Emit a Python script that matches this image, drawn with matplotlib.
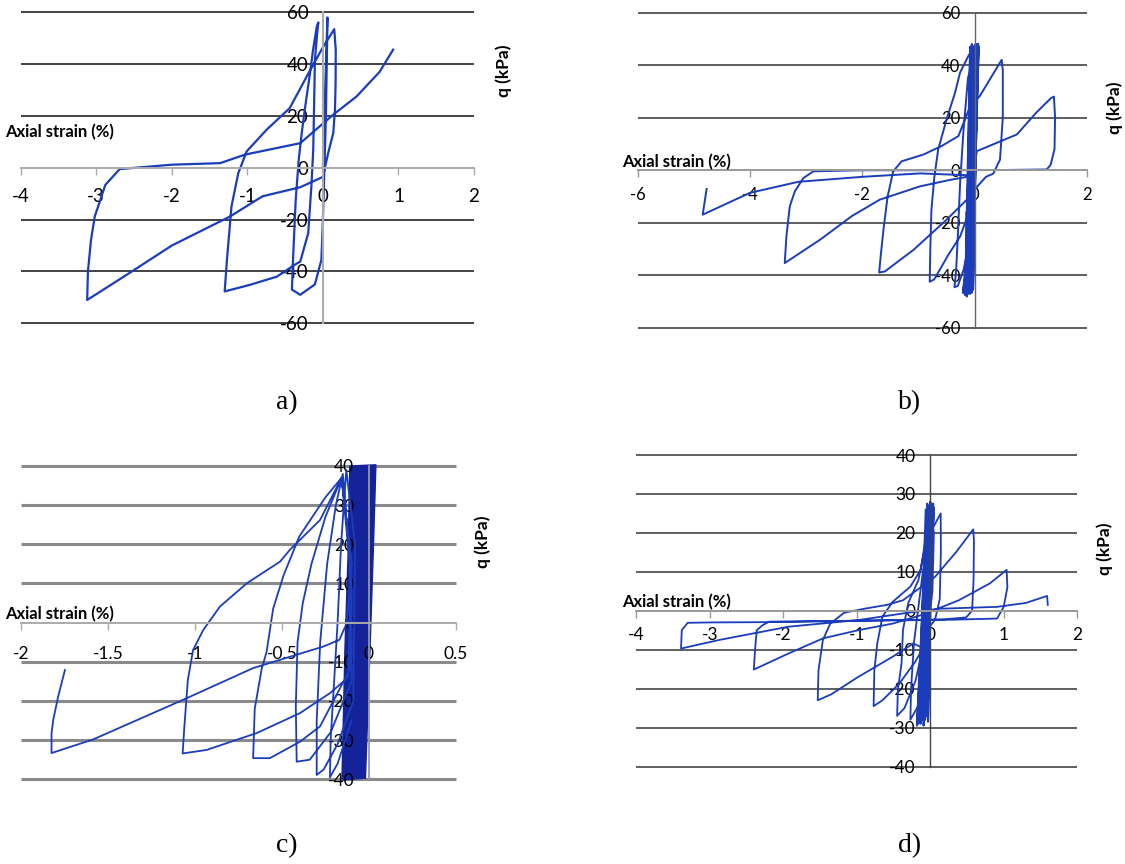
import matplotlib
matplotlib.use('Agg')
import matplotlib.pyplot as plt

plt.rcParams['font.family'] = ['Lato', 'DejaVu Sans']
plt.rcParams['axes.unicode_minus'] = False

BLUE = '#1b3dbb'
W, H = 1125, 864

# ---------------- panel a ----------------
a_strain = [0.0, 0.03, 0.06, 0.04, 0.02, 0.0, -0.02, -0.106, -0.3, -0.41,
            -0.39, -0.36, -0.32, -0.28, -0.24, -0.17, -0.13, -0.08, -0.06,
            -0.075, -0.106, -0.115, -0.128, -0.15, -0.194, -0.3, -0.35,
            -0.61, -0.97, -1.3,
            -1.27, -1.21, -1.12, -1.01,
            -0.745, -0.44, -0.2, 0.0, 0.15,
            0.17, 0.168, 0.16, 0.137, 0.07, 0.026, 0.0,
            -0.3, -0.8, -1.23, -2.0, -2.55, -3.12,
            -3.11, -3.07, -3.02, -2.88, -2.69,
            -2.0, -1.36, -1.03, -0.3, 0.137, 0.445, 0.75, 0.93]
a_q = [0, 30, 58, 20, 0, -20, -35.5, -45, -49, -47,
       -31.7, -12.4, 3.1, 13.4, 22.4, 36.6, 45.6, 54.6, 56.1,
       52, 41.7, 26.3, 6.9, -5.9, -25.2, -36.2, -37,
       -42, -45.2, -47.7,
       -35.5, -14.9, -2.1, 6.3,
       14.7, 23, 36, 46.5, 53.5,
       45.6, 32.7, 22.4, 13.4, 5.7, 0, -3.5,
       -7.5, -11, -18.8, -30, -40.4, -51,
       -40, -28, -18.8, -6.6, -0.5,
       1.2, 1.8, 5.1, 9.5, 20.5, 27.5, 37, 45.6]

# ---------------- panel b ----------------
b_band_strain = [-0.15, -0.08, -0.17, -0.05, -0.16, -0.03, -0.14, 0.0, -0.13, 0.02, -0.11,
                 0.04, -0.1, 0.05, -0.08, 0.06, -0.06, 0.07, -0.05, 0.06, -0.03, 0.05]
b_band_q = [-46, 47, -47.5, 48, -46.5, 47, -48, 47.5, -46, 48, -47,
            47, -46.5, 48, -47, 47.5, -46, 47, -46.5, 48, -45.5, 47]
b_strain = [-0.15, -0.15, -0.18, -0.05, 0.02,
            -0.12, -0.2, -0.26, -0.3, -0.33, -0.36, -0.3, -0.2, -0.1, -0.02, 0.03, 0.04,
            0.0, -0.1, -0.21, -0.18, -0.1, 0.0, 0.03,
            -0.1, -0.26, -0.35, -0.5, -0.65, -0.72, -0.77, -0.79, -0.8,
            -0.72, -0.47, -0.26, -0.13, -0.03,
            0.2, 0.33, 0.45, 0.5, 0.5, 0.48,
            0.09, -0.08, -0.29, -0.59, -0.91, -1.3, -1.45, -1.55, -1.62, -1.67, -1.70,
            -1.6, -1.09, -0.5, -0.14, -0.02, 0.04,
            0.39, 0.75, 1.1, 1.36, 1.41, 1.43, 1.42, 1.35, 1.28,
            0.5, -1.0, -2.0, -2.87, -3.05, -3.2, -3.29, -3.35, -3.38,
            -2.75, -2.19, -1.69, -0.97, -0.4, 0.0,
            -0.97, -2.0, -3.14, -4.0, -4.84, -4.77]
b_q = [-16, -40, -47, 0, 47,
       35, 15, -5, -25, -38, -44.5, -44, -38, -28, -10, 20, 47,
       0, -30, -46.6, -40, -20, 10, 47,
       44, 37.2, 29.5, 19.4, 7.9, -3, -15, -30, -42.4,
       -41.5, -32.2, -25.2, -17.6, -8,
       -2.5, -1.3, 4, 20, 38, 42,
       28.2, 24.4, 13, 9.2, 6, 3.4, -0.4, -10, -22, -32, -38.9,
       -38.5, -30.3, -18.8, -11.2, 0, 7.3,
       10.4, 13.6, 22, 27.5, 28, 20, 8, 2, 0.3,
       0.1, 0, 0, -0.4, -3, -8, -13.7, -25, -35.3,
       -26.4, -17.5, -11.2, -6.1, -3.5, -2,
       -1.2, -2.5, -4.4, -8.6, -16.9, -7.1]

# ---------------- panel c ----------------
c_band_strain = [-0.11, 0.04, 0.025, 0.006, -0.02, -0.155, -0.138, -0.119]
c_band_q = [40, 40.3, 18.6, -7, -39.7, -40.2, -7, 18.6]
c_strain = [-0.1, -0.18, -0.224, -0.22, -0.2, -0.18, -0.16, -0.13, -0.08, -0.09,
            -0.18, -0.26, -0.3, -0.3, -0.28, -0.24, -0.19, -0.15, -0.1, -0.1,
            -0.22, -0.34, -0.415, -0.42, -0.41, -0.38, -0.33, -0.25, -0.157, -0.11, -0.11,
            -0.281, -0.396, -0.569, -0.665, -0.656, -0.616, -0.588, -0.55, -0.49, -0.4, -0.25, -0.157, -0.1, -0.12,
            -0.224, -0.396, -0.645, -0.932, -1.07, -1.06, -1.04, -1.01, -0.952, -0.856, -0.70, -0.51, -0.454,
            -0.281, -0.157, -0.1, -0.128,
            -0.17, -0.262, -0.665, -1.047, -1.583, -1.823, -1.823, -1.813, -1.785, -1.746]
c_q = [-25, -36, -39.5, -30, -15, 0, 20, 39, 20, -20,
       -31, -37.5, -38.9, -25, -5, 15, 30, 38, 10, -15,
       -28, -35, -35.5, -21.4, -5, 5, 15, 27, 37, 15, -12,
       -26.5, -30.4, -34.6, -34.6, -22, -11.8, -7.5, 3.6, 12.1, 22, 32, 37, 15, -14,
       -18, -23.1, -28.2, -32.5, -33.4, -26.5, -14.6, -7, -1.9, 4.1, 10.1, 15.6, 18.6,
       26.2, 37, 15, -0.2,
       -4.4, -6.1, -11.6, -19.3, -29.8, -33.3, -28.3, -24.8, -18.9, -12.1]

# ---------------- panel d ----------------
d_band_strain = [-0.12, -0.06, -0.16, -0.04, -0.18, -0.02, -0.15, 0.0, -0.13, 0.02,
                 -0.11, 0.03, -0.09, 0.05, -0.07, 0.04, -0.05, 0.03, -0.03, 0.02]
d_band_q = [-28, 26, -29, 27.5, -29.5, 27, -28.5, 28, -29, 27.5,
            -28, 27, -29.5, 26.5, -28, 27.5, -27, 26, -28.5, 27]
d_strain = [-0.05, -0.15, -0.27, -0.26, -0.22, -0.1, 0.0, 0.143, 0.145, 0.13, 0.065, -0.05,
            -0.2, -0.35, -0.45, -0.44, -0.39, -0.37, -0.30, -0.16, -0.05, 0.0, 0.05, 0.03,
            -0.05, -0.2, -0.42, -0.65, -0.77, -0.76, -0.72, -0.65, -0.51, -0.27, -0.13, -0.05, 0.0, -0.05,
            -0.23, -0.51, -0.98, -1.35, -1.53, -1.52, -1.46, -1.36, -1.17, -0.9, -0.59, -0.37,
            0.065, 0.35, 0.586, 0.595, 0.59, 0.57, 0.49,
            0.2, -0.5, -1.2, -1.8, -2.19, -2.28, -2.36, -2.38, -2.40,
            -1.93, -1.46, -0.98, -0.51, -0.1, 0.39, 0.81, 1.04, 1.05, 1.0, 0.91,
            0.3, -1.0, -2.0, -3.0, -3.30, -3.38, -3.39,
            -2.87, -1.93, -0.98, -0.3, 0.1, 0.91, 1.3, 1.59, 1.6]
d_q = [-15, -24, -28, -20, -8, 10, 20, 25, 15, 3, -2.4, -5,
       -18, -25, -27, -20.4, -13.5, -4.9, 1.9, 7.9, 18, 26, 20, 5,
       -8, -13, -18.7, -23, -24.5, -15.3, -8.4, -1.5, 2.3, 6.2, 10.5, 20, 27, -10,
       -8.4, -11.8, -17, -21.5, -23, -15.3, -7.5, -3.3, -0.5, 0.5, 1.5, 2.7,
       8.7, 15, 20.9, 18, 8, 0, -1.7,
       -2.2, -2.4, -2.6, -2.7, -2.8, -3.7, -5, -9.3, -15.1,
       -11, -7.1, -5, -3.3, -1, 2.7, 7, 10.5, 6, 1, -2,
       -2.3, -2.6, -2.9, -3.0, -3.1, -5, -9.7,
       -7.5, -4.1, -2.4, -0.5, 0.5, 1.0, 2, 3.8, 1.5]

fig = plt.figure(figsize=(W / 100, H / 100), dpi=100)


def rect(x0, x1, y0, y1):
    return [x0 / W, 1 - y1 / H, (x1 - x0) / W, (y1 - y0) / H]


def panel(r, xlim, ylim, xticks, xlabels, yticks, fs, xpad, grid_c, grid_lw, h_c, v_c, v_lw):
    ax = fig.add_axes(r)
    ax.set_xlim(xlim); ax.set_ylim(ylim)
    ax.patch.set_alpha(0)
    for s in ['top', 'right']:
        ax.spines[s].set_visible(False)
    ax.spines['bottom'].set_position(('data', 0))
    ax.spines['left'].set_position(('data', 0))
    ax.spines['bottom'].set_color(h_c); ax.spines['bottom'].set_linewidth(1.4)
    ax.spines['left'].set_color(v_c); ax.spines['left'].set_linewidth(v_lw)
    ax.set_xticks(xticks, xlabels)
    ax.set_yticks(yticks, [str(t) for t in yticks])
    ax.tick_params(axis='x', direction='out', length=5, width=1, color=h_c, pad=xpad, labelsize=fs)
    ax.tick_params(axis='y', length=0, pad=10.5, labelsize=fs)
    ax.hlines([t for t in yticks if t != 0], xlim[0], xlim[1], colors=grid_c, lw=grid_lw,
              zorder=0.5, clip_on=False)
    return ax


# a
ax = panel(rect(20.7, 474, 12.3, 323.3), (-4, 2), (-60, 60), [-4, -3, -2, -1, 0, 1, 2],
           ['-4', '-3', '-2', '-1', '0', '1', '2'], [-60, -40, -20, 0, 20, 40, 60],
           13.5, 9.5, '#222222', 1.2, '#aaaaaa', '#aaaaaa', 1.5)
ax.plot(a_strain, a_q, color=BLUE, lw=1.6, clip_on=False)

# b
ax = panel(rect(637.5, 1087.1, 12.5, 328), (-6, 2), (-60, 60), [-6, -4, -2, 0, 2],
           ['-6', '-4', '-2', '0', '2'], [-60, -40, -20, 0, 20, 40, 60],
           12, 7, '#333333', 1.1, '#999999', '#666666', 1.0)
ax.plot(b_band_strain, b_band_q, color=BLUE, lw=1.5, clip_on=False)
ax.plot(b_strain, b_q, color=BLUE, lw=1.4, clip_on=False)

# c
ax = panel(rect(20.7, 456, 466, 779.3), (-2, 0.5), (-40, 40), [-2, -1.5, -1, -0.5, 0, 0.5],
           ['-2', '-1.5', '-1', '-0.5', '0', '0.5'], [-40, -30, -20, -10, 0, 10, 20, 30, 40],
           12.5, 12, '#8a8a8a', 2.2, '#aaaaaa', '#999999', 1.3)
ax.fill(c_band_strain, c_band_q, color='#14239a', lw=1, clip_on=False)
ax.plot(c_strain, c_q, color=BLUE, lw=1.3, clip_on=False)

# d
ax = panel(rect(636.2, 1077.2, 455, 766.5), (-4, 2), (-40, 40), [-4, -3, -2, -1, 0, 1, 2],
           ['-4', '-3', '-2', '-1', '0', '1', '2'], [-40, -30, -20, -10, 0, 10, 20, 30, 40],
           12.5, 7, '#444444', 1.2, '#999999', '#444444', 1.0)
ax.plot(d_band_strain, d_band_q, color=BLUE, lw=1.5, clip_on=False)
ax.plot(d_strain, d_q, color=BLUE, lw=1.3, clip_on=False)

# axis titles and panel letters
for x, y in [(5, 132), (621.7, 162), (5, 614), (621.7, 602)]:
    fig.text(x / W, 1 - y / H, 'Axial strain (%)', fontweight='bold', fontsize=12,
             ha='left', va='center')
for x, y in [(504, 71), (1115, 108), (483, 542), (1105, 549)]:
    fig.text(x / W, 1 - y / H, 'q (kPa)', fontweight='bold', fontsize=12.5, rotation=90,
             ha='center', va='center')
for lab, x, y in [('a)', 287, 403), ('b)', 910, 403), ('c)', 287, 846), ('d)', 910, 846)]:
    fig.text(x / W, 1 - y / H, lab, family='Liberation Serif', fontsize=20, ha='center', va='center')

plt.savefig('out.png', dpi=100)
